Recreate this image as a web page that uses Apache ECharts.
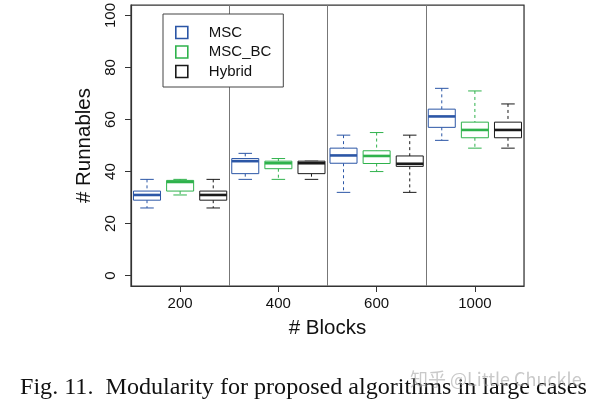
<!DOCTYPE html>
<html>
<head>
<meta charset="utf-8">
<script src="https://cdn.jsdelivr.net/npm/echarts@6/dist/echarts.min.js"></script>
<style>html,body{margin:0;padding:0;background:#fff;}#c{width:600px;height:410px;}</style>
</head>
<body>
<div id="c"></div>
<script>
// ---- data ----
const categories = ['200', '400', '600', '1000'];
const seriesNames = ['MSC', 'MSC_BC', 'Hybrid'];
// [min, Q1, median, Q3, max] per category
const mscStats = [[26, 29, 31, 32.5, 37], [37, 39.2, 44, 45, 47], [32, 43.2, 46.2, 49, 54], [52, 57, 61.2, 64, 72]];
const mscBcStats = [[31, 32.5, 36, 36.6, 37], [37, 41.1, 43.2, 44, 45], [40, 43.1, 46, 48, 55], [49, 53, 56, 59, 71]];
const hybridStats = [[26, 29, 31, 32.5, 37], [37, 39.2, 43.2, 44, 44], [32, 42, 43, 46, 54], [49, 53, 56, 59, 66]];
const yTicks = [0, 20, 40, 60, 80, 100];

const colors = ['#2b56a6', '#2fb24c', '#1a1a1a'];
const offsets = [-0.337, 0, 0.337];
const allStats = [mscStats, mscBcStats, hybridStats];

function makeRender(offset, color) {
  return function (params, api) {
    const xi = api.value(0);
    const band = api.size([1, 0])[0];
    const w = band * 0.275;
    const base = api.coord([xi, api.value(3)]);
    const cx = base[0] + offset * band;
    const y = v => api.coord([xi, v])[1];
    const yMin = y(api.value(1)), yQ1 = y(api.value(2)), yMed = y(api.value(3)), yQ3 = y(api.value(4)), yMax = y(api.value(5));
    const thin = {stroke: color, lineWidth: 1, fill: null};
    const dash = {stroke: color, lineWidth: 1, lineDash: [3, 3], fill: null};
    return {
      type: 'group',
      children: [
        {type: 'line', shape: {x1: cx, y1: yMax, x2: cx, y2: yQ3}, style: dash},
        {type: 'line', shape: {x1: cx, y1: yQ1, x2: cx, y2: yMin}, style: dash},
        {type: 'line', shape: {x1: cx - w / 4, y1: yMax, x2: cx + w / 4, y2: yMax}, style: thin},
        {type: 'line', shape: {x1: cx - w / 4, y1: yMin, x2: cx + w / 4, y2: yMin}, style: thin},
        {type: 'rect', shape: {x: cx - w / 2, y: yQ3, width: w, height: yQ1 - yQ3}, style: {stroke: color, lineWidth: 1, fill: '#fff'}},
        {type: 'line', shape: {x1: cx - w / 2, y1: yMed, x2: cx + w / 2, y2: yMed}, style: {stroke: color, lineWidth: 2.6}}
      ]
    };
  };
}

const series = seriesNames.map((name, s) => ({
  name: name,
  type: 'custom',
  renderItem: makeRender(offsets[s], colors[s]),
  itemStyle: {color: colors[s]},
  encode: {x: 0, y: [1, 2, 3, 4, 5]},
  data: allStats[s].map((st, i) => [i].concat(st)),
  z: 5
}));

const chart = echarts.init(document.getElementById('c'), null, {renderer: 'canvas'});
chart.setOption({
  backgroundColor: '#fff',
  animation: false,
  textStyle: {fontFamily: 'Liberation Sans'},
  grid: {left: 131, right: 76, top: 3, bottom: 124, show: true, borderColor: '#333', borderWidth: 1.2, backgroundColor: 'transparent'},
  legend: {
    orient: 'vertical',
    left: 163, top: 14,
    padding: [11, 12, 8, 12],
    itemWidth: 12, itemHeight: 12, itemGap: 4.5,
    backgroundColor: '#fff',
    borderColor: '#444', borderWidth: 1,
    textStyle: {fontSize: 15, lineHeight: 14, color: '#111', fontFamily: 'Liberation Sans', padding: [0, 0, 0, 16]},
    data: seriesNames.map((n, s) => ({name: n, icon: 'rect', itemStyle: {color: '#fff', borderColor: colors[s], borderWidth: 1.6}}))
  },
  xAxis: {
    type: 'category',
    data: categories,
    boundaryGap: true,
    axisLine: {show: true, onZero: false, lineStyle: {color: '#333', width: 1.2}},
    axisTick: {show: true, alignWithLabel: true, length: 6, lineStyle: {color: '#333'}},
    axisLabel: {fontSize: 15, color: '#111', margin: 10},
    splitLine: {show: true, lineStyle: {color: '#777', width: 1}},
    name: '# Blocks',
    nameLocation: 'middle',
    nameGap: 32,
    nameTextStyle: {fontSize: 20.5, color: '#111'}
  },
  yAxis: {
    type: 'value',
    min: -4, max: 104,
    axisLine: {show: true, onZero: false, lineStyle: {color: '#333', width: 1.2}},
    axisTick: {show: true, length: 6, customValues: yTicks, lineStyle: {color: '#333'}},
    axisLabel: {fontSize: 15, color: '#111', rotate: 90, margin: 13, customValues: yTicks},
    splitLine: {show: false},
    name: '# Runnables',
    nameLocation: 'middle',
    nameGap: 36,
    nameTextStyle: {fontSize: 20.5, color: '#111'}
  },
  series: series,
  graphic: [
    {type: 'text', left: 20, top: 376, z: 10, style: {text: 'Fig. 11.  Modularity for proposed algorithms in large cases', font: '24.1px "Liberation Serif"', fill: '#111'}},
    {type: 'text', left: 410, top: 370, z: 11, style: {text: '知乎 @Little Chuckle', font: '18px "Noto Sans CJK SC"', fill: 'rgba(165,165,165,0.6)'}}
  ]
});
</script>
</body>
</html>
